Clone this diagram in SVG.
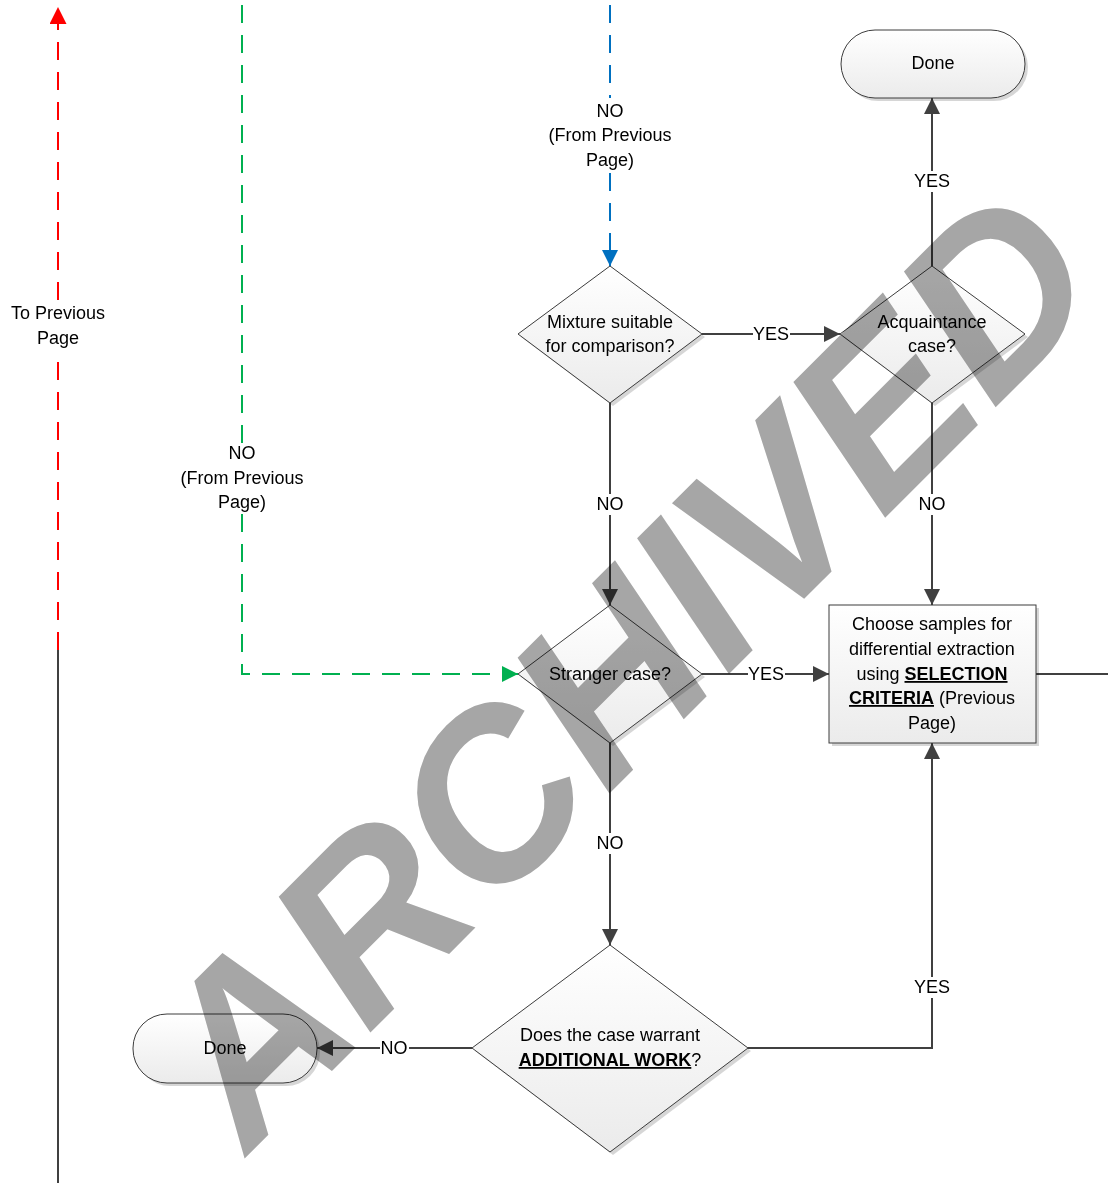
<svg xmlns="http://www.w3.org/2000/svg" width="1108" height="1183" viewBox="0 0 1108 1183">
  <style>
    .t { font-family: "Liberation Sans", Arial, sans-serif; font-size: 18px; fill: #000; text-anchor: middle; }
    .b { font-weight: bold; text-decoration: underline; }
    .shape { fill: url(#g); stroke: #3c3c3c; stroke-width: 1; }
    .sh { fill: #000; opacity: 0.16; }
    .c { fill: none; stroke: #404040; stroke-width: 2; }
    .red { fill: none; stroke: #ff0000; stroke-width: 2; stroke-dasharray: 18 12; }
    .grn { fill: none; stroke: #00b050; stroke-width: 2; stroke-dasharray: 18 12; }
    .blu { fill: none; stroke: #0070c0; stroke-width: 2; stroke-dasharray: 18 12; }
    .wm { font-family: "Liberation Sans", Arial, sans-serif; font-size: 234px; font-weight: bold; font-style: italic; fill: #a6a6a6; mix-blend-mode: multiply; }
  </style>
  <defs>
    <linearGradient id="g" x1="0" y1="0" x2="0" y2="1">
      <stop offset="0" stop-color="#ffffff"/>
      <stop offset="1" stop-color="#ebebeb"/>
    </linearGradient>
    <marker id="ad" viewBox="0 0 16 16" refX="16" refY="8" markerWidth="16" markerHeight="16" markerUnits="userSpaceOnUse" orient="auto">
      <path d="M0,0 L16,8 L0,16 z" fill="#404040"/>
    </marker>
    <marker id="ar" viewBox="0 0 16 16" refX="16" refY="8" markerWidth="17" markerHeight="17" markerUnits="userSpaceOnUse" orient="auto">
      <path d="M0,0 L16,8 L0,16 z" fill="#ff0000"/>
    </marker>
    <marker id="ag" viewBox="0 0 16 16" refX="16" refY="8" markerWidth="16" markerHeight="16" markerUnits="userSpaceOnUse" orient="auto">
      <path d="M0,0 L16,8 L0,16 z" fill="#00b050"/>
    </marker>
    <marker id="ab" viewBox="0 0 16 16" refX="16" refY="8" markerWidth="16" markerHeight="16" markerUnits="userSpaceOnUse" orient="auto">
      <path d="M0,0 L16,8 L0,16 z" fill="#0070c0"/>
    </marker>
  </defs>
  <rect x="0" y="0" width="1108" height="1183" fill="#ffffff"/>

  <g id="connectors">
    <path class="red" d="M58,650 V352"/>
    <path class="red" d="M58,300 V7" marker-end="url(#ar)"/>
    <path class="c" d="M58,650 V1183"/>
    <path class="grn" d="M242,-25 V446"/>
    <path class="grn" d="M242,514 V674 H518" marker-end="url(#ag)"/>
    <path class="blu" d="M610,-25 V98"/>
    <path class="blu" d="M610,173 V266" marker-end="url(#ab)"/>
    <path class="c" d="M702,334 H753"/>
    <path class="c" d="M790,334 H840" marker-end="url(#ad)"/>
    <path class="c" d="M932,266 V192"/>
    <path class="c" d="M932,171 V98" marker-end="url(#ad)"/>
    <path class="c" d="M610,403 V494"/>
    <path class="c" d="M610,515 V605" marker-end="url(#ad)"/>
    <path class="c" d="M932,403 V494"/>
    <path class="c" d="M932,515 V605" marker-end="url(#ad)"/>
    <path class="c" d="M702,674 H748"/>
    <path class="c" d="M785,674 H829" marker-end="url(#ad)"/>
    <path class="c" d="M1036,674 H1108"/>
    <path class="c" d="M610,743 V833"/>
    <path class="c" d="M610,854 V945" marker-end="url(#ad)"/>
    <path class="c" d="M748,1048 H932 V998"/>
    <path class="c" d="M932,977 V743" marker-end="url(#ad)"/>
    <path class="c" d="M472,1048 H409"/>
    <path class="c" d="M380,1048 H317" marker-end="url(#ad)"/>
    <text class="t" x="58" y="319">To Previous</text>
    <text class="t" x="58" y="344">Page</text>
    <text class="t" x="242" y="459">NO</text>
    <text class="t" x="242" y="484">(From Previous</text>
    <text class="t" x="242" y="508">Page)</text>
    <text class="t" x="610" y="117">NO</text>
    <text class="t" x="610" y="141">(From Previous</text>
    <text class="t" x="610" y="166">Page)</text>
    <text class="t" x="771" y="340">YES</text>
    <text class="t" x="932" y="187">YES</text>
    <text class="t" x="610" y="510">NO</text>
    <text class="t" x="932" y="510">NO</text>
    <text class="t" x="766" y="680">YES</text>
    <text class="t" x="610" y="849">NO</text>
    <text class="t" x="932" y="993">YES</text>
    <text class="t" x="394" y="1054">NO</text>
  </g>

  <g id="done-top">
    <rect class="sh" x="844" y="33" width="184" height="68" rx="34"/>
    <rect class="shape" x="841" y="30" width="184" height="68" rx="34"/>
    <text class="t" x="933" y="69">Done</text>
  </g>

  <g id="mixture">
    <polygon class="sh" points="613,269 705,337 613,406 521,337"/>
    <polygon class="shape" points="610,266 702,334 610,403 518,334"/>
    <text class="t" x="610" y="328">Mixture suitable</text>
    <text class="t" x="610" y="352">for comparison?</text>
  </g>

  <g id="acquaintance">
    <polygon class="sh" points="935,269 1028,337 935,406 843,337"/>
    <polygon class="shape" points="932,266 1025,334 932,403 840,334"/>
    <text class="t" x="932" y="328">Acquaintance</text>
    <text class="t" x="932" y="352">case?</text>
  </g>

  <g id="stranger">
    <polygon class="sh" points="613,608 705,677 613,746 521,677"/>
    <polygon class="shape" points="610,605 702,674 610,743 518,674"/>
    <text class="t" x="610" y="680">Stranger case?</text>
  </g>

  <g id="choose">
    <rect class="sh" x="832" y="608" width="207" height="138"/>
    <rect class="shape" x="829" y="605" width="207" height="138"/>
    <text class="t" x="932" y="630">Choose samples for</text>
    <text class="t" x="932" y="655">differential extraction</text>
    <text class="t" x="932" y="680">using <tspan class="b">SELECTION</tspan></text>
    <text class="t" x="932" y="704"><tspan class="b">CRITERIA</tspan> (Previous</text>
    <text class="t" x="932" y="729">Page)</text>
  </g>

  <g id="additional">
    <polygon class="sh" points="613,948 751,1051 613,1155 475,1051"/>
    <polygon class="shape" points="610,945 748,1048 610,1152 472,1048"/>
    <text class="t" x="610" y="1041">Does the case warrant</text>
    <text class="t" x="610" y="1066"><tspan class="b">ADDITIONAL WORK</tspan>?</text>
  </g>

  <g id="done-bottom">
    <rect class="sh" x="136" y="1017" width="184" height="69" rx="34"/>
    <rect class="shape" x="133" y="1014" width="184" height="69" rx="34"/>
    <text class="t" x="225" y="1054">Done</text>
  </g>

  <g id="watermark">
    <text class="wm" x="0" y="0" transform="translate(248,1155) rotate(-45)">ARCHIVED</text>
  </g>
</svg>
